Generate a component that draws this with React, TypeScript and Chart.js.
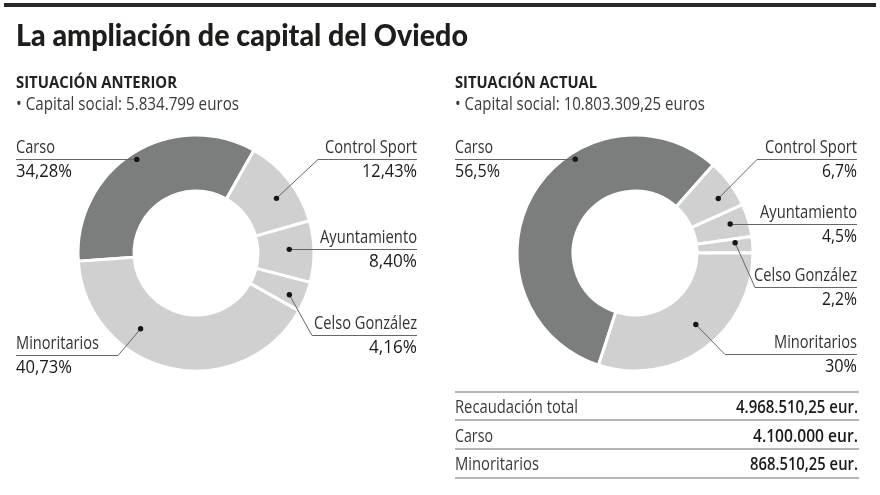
import React, { useEffect, useRef } from 'react';
import { Chart, registerables } from 'chart.js';

Chart.register(...registerables);

// ---------- data ----------
const categories = ['Carso', 'Control Sport', 'Ayuntamiento', 'Celso González', 'Minoritarios'];
const valuesAnterior = [34.28, 12.43, 8.4, 4.16, 40.73];
const valuesActual = [56.5, 6.7, 4.5, 2.2, 30];
const decimalsAnterior = 2;
const capitalAnterior = '5.834.799 euros';
const capitalActual = '10.803.309,25 euros';
const tableLabels = ['Recaudación total', 'Carso', 'Minoritarios'];
const tableValues = ['4.968.510,25 eur.', '4.100.000 eur.', '868.510,25 eur.'];

// ---------- styles ----------
const DARK = '#7c7e7d';
const LIGHT = '#cfd0cf';
const sliceColors = [DARK, LIGHT, LIGHT, LIGHT, LIGHT];
const FONT = '"Open Sans", "Noto Sans", "DejaVu Sans", sans-serif';

const fmtPct = (v: number, d?: number) =>
  (d == null ? String(v) : v.toFixed(d)).replace('.', ',') + '%';

type LabelLayout = {
  side: 'left' | 'right';
  x: number;
  lineY: number;
  elbowX: number | null;
  frac: number;
  rf: number;
  nameW: number;
  pctW: number;
};

const layoutAnterior: LabelLayout[] = [
  { side: 'left', x: 16, lineY: 159, elbowX: null, frac: 0.5, rf: 0.87, nameW: 39, pctW: 56 },
  { side: 'right', x: 417, lineY: 159, elbowX: 318, frac: 0.59, rf: 0.63, nameW: 92, pctW: 55 },
  { side: 'right', x: 417, lineY: 249, elbowX: null, frac: 0.45, rf: 0.56, nameW: 97, pctW: 48 },
  { side: 'right', x: 417, lineY: 335, elbowX: 312, frac: 0.65, rf: 0.72, nameW: 103, pctW: 48 },
  { side: 'left', x: 16, lineY: 355, elbowX: 118, frac: 0.66, rf: 0.57, nameW: 83, pctW: 56 },
];

const layoutActual: LabelLayout[] = [
  { side: 'left', x: 455, lineY: 159, elbowX: null, frac: 0.636, rf: 0.88, nameW: 38, pctW: 45 },
  { side: 'right', x: 857, lineY: 159, elbowX: 757, frac: 0.63, rf: 0.67, nameW: 92, pctW: 35 },
  { side: 'right', x: 857, lineY: 224, elbowX: null, frac: 0.45, rf: 0.67, nameW: 97, pctW: 35 },
  { side: 'right', x: 857, lineY: 287, elbowX: 755, frac: 0.28, rf: 0.69, nameW: 103, pctW: 35 },
  { side: 'right', x: 857, lineY: 354, elbowX: 725, frac: 0.46, rf: 0.57, nameW: 83, pctW: 32 },
];

function Donut(props: {
  values: number[];
  rotation: number;
  layout: LabelLayout[];
  offsetX: number;
  padding: { left: number; right: number; top: number; bottom: number };
}) {
  const ref = useRef<HTMLCanvasElement>(null);
  useEffect(() => {
    const canvas = ref.current!;
    const { layout, offsetX } = props;
    const leaders = {
      id: 'leaders',
      afterDatasetsDraw(chart: any) {
        const ctx = chart.ctx as CanvasRenderingContext2D;
        const meta = chart.getDatasetMeta(0);
        meta.data.forEach((arc: any, i: number) => {
          const L = layout[i];
          const p = arc.getProps(['x', 'y', 'startAngle', 'endAngle', 'innerRadius', 'outerRadius'], true);
          const a = p.startAngle + L.frac * (p.endAngle - p.startAngle);
          const r = p.innerRadius + L.rf * (p.outerRadius - p.innerRadius);
          const dx = p.x + Math.cos(a) * r;
          const dy = p.y + Math.sin(a) * r;
          ctx.save();
          ctx.strokeStyle = '#666666';
          ctx.lineWidth = 1;
          ctx.beginPath();
          ctx.moveTo(L.x - offsetX, L.lineY + 0.5);
          if (L.elbowX != null) {
            ctx.lineTo(L.elbowX - offsetX, L.lineY + 0.5);
            ctx.lineTo(dx, dy);
          } else {
            ctx.lineTo(dx, L.lineY + 0.5);
            ctx.lineTo(dx, dy);
          }
          ctx.stroke();
          ctx.fillStyle = '#151515';
          ctx.beginPath();
          ctx.arc(dx, dy, 2.7, 0, Math.PI * 2);
          ctx.fill();
          ctx.restore();
        });
      },
    };
    const chart = new Chart(canvas, {
      type: 'doughnut',
      data: {
        labels: categories,
        datasets: [
          {
            data: props.values,
            backgroundColor: sliceColors,
            borderColor: '#ffffff',
            borderWidth: 3,
            hoverOffset: 0,
          },
        ],
      },
      options: {
        responsive: false,
        animation: false,
        devicePixelRatio: 1,
        rotation: props.rotation,
        cutout: '52.5%',
        radius: 118,
        events: [],
        layout: { padding: props.padding },
        plugins: { legend: { display: false }, tooltip: { enabled: false } },
      } as any,
      plugins: [leaders],
    });
    return () => chart.destroy();
  }, []);
  return (
    <canvas
      ref={ref}
      width={440}
      height={495}
      style={{ position: 'absolute', left: props.offsetX, top: 0, width: 440, height: 495 }}
    />
  );
}

function T(props: {
  x: number;
  y: number;
  w?: number;
  size: number;
  weight?: number;
  anchor?: 'start' | 'end';
  color?: string;
  family?: string;
  children: string;
}) {
  return (
    <text
      x={props.x}
      y={props.y}
      fontSize={props.size}
      fontWeight={props.weight ?? 400}
      fontFamily={props.family ?? FONT}
      textAnchor={props.anchor ?? 'start'}
      fill={props.color ?? '#333'}
      {...(props.w ? { textLength: props.w, lengthAdjust: 'spacingAndGlyphs' } : {})}
    >
      {props.children}
    </text>
  );
}

function Labels({ layout, values, decimals }: { layout: LabelLayout[]; values: number[]; decimals?: number }) {
  return (
    <g>
      {layout.map((L, i) => (
        <g key={i}>
          <T x={L.x} y={L.lineY - 6} w={L.nameW} size={17.5} anchor={L.side === 'left' ? 'start' : 'end'} color="#333333">
            {categories[i]}
          </T>
          <T x={L.x} y={L.lineY + 18} w={L.pctW} size={17.5} weight={500} anchor={L.side === 'left' ? 'start' : 'end'} color="#1a1a1a">
            {fmtPct(values[i], decimals)}
          </T>
        </g>
      ))}
    </g>
  );
}

export default function App() {
  const rowLines = [391, 419, 448, 477];
  const rowBaselines = [413, 442, 470];
  const labelW = [123, 38, 84];
  const valueW = [122, 105, 108];
  return (
    <div style={{ position: 'absolute', left: 0, top: 0, width: 880, height: 495, background: '#fff', overflow: 'hidden' }}>
      <Donut values={valuesAnterior} rotation={266} layout={layoutAnterior} offsetX={0} padding={{ left: 76, right: 124, top: 133, bottom: 122 }} />
      <Donut values={valuesActual} rotation={198} layout={layoutActual} offsetX={440} padding={{ left: 75, right: 125, top: 133, bottom: 122 }} />
      <svg width={880} height={495} style={{ position: 'absolute', left: 0, top: 0, pointerEvents: 'none' }}>
        <rect x={4} y={3} width={872} height={4} fill="#2a2a2a" />
        <T x={16} y={46} w={452} size={29.5} weight={900} family='Lato, "Open Sans", sans-serif' color="#1d1d1b">
          La ampliación de capital del Oviedo
        </T>
        <T x={16} y={88} w={161} size={16.5} weight={700} color="#222">SITUACIÓN ANTERIOR</T>
        <T x={455} y={88} w={142} size={16.5} weight={700} color="#222">SITUACIÓN ACTUAL</T>
        <T x={16} y={110} w={223} size={17.5} color="#3a3a3a">{'• Capital social: ' + capitalAnterior}</T>
        <T x={455} y={110} w={250} size={17.5} color="#3a3a3a">{'• Capital social: ' + capitalActual}</T>
        <Labels layout={layoutAnterior} values={valuesAnterior} decimals={decimalsAnterior} />
        <Labels layout={layoutActual} values={valuesActual} />
        {rowLines.map((y, i) => (
          <rect key={'l' + i} x={455} y={y} width={404} height={2} fill="#b5b5b5" />
        ))}
        {tableLabels.map((s, i) => (
          <T key={'t' + i} x={455} y={rowBaselines[i]} w={labelW[i]} size={17.5} color="#3a3a3a">{s}</T>
        ))}
        {tableValues.map((s, i) => (
          <T key={'v' + i} x={858} y={rowBaselines[i]} w={valueW[i]} size={17.5} weight={600} anchor="end" color="#1a1a1a">{s}</T>
        ))}
      </svg>
    </div>
  );
}
